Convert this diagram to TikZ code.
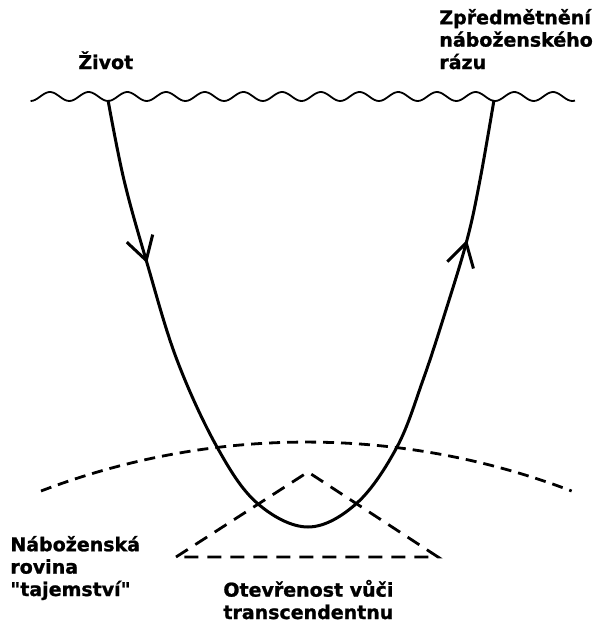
\documentclass[tikz,border=0pt]{standalone}
\usepackage{fontspec}
\setmainfont{DejaVu Sans}[Ligatures=TeXOff, BoldFeatures={FakeBold=1.2}]
\usepackage{tikz}
\usetikzlibrary{arrows.meta,decorations.markings}
\tikzset{
  tag/.style={inner sep=0pt, align=left, anchor=base west,
              font=\bfseries\fontsize{9.5}{11.2}\selectfont},
  wavyline/.style={line width=0.9pt, line join=round},
  pathline/.style={line width=1.5pt, line join=round,
                   postaction={decorate}},
  planearc/.style={line width=1.4pt, dash pattern=on 5.5pt off 3.5pt},
  conedash/.style={line width=1.4pt, dash pattern=on 7pt off 4.5pt},
  barb/.tip={Straight Barb[length=11.5pt, width=13.5pt]}
}

\begin{document}
\begin{tikzpicture}[x=0.5pt, y=-0.5pt]
  \useasboundingbox (0,0) rectangle (599,623);
  \draw[wavyline] plot[domain=30.6:575, samples=240]
    (\x, {96.5+4.5*cos(9.3023*(\x-108))});
  \coordinate (lifetop) at (108,100);
  \coordinate (objtop) at (494,100);
  \node[tag] (life) at (78,69) {Život};
  \node[tag] (obj) at (439,69) {Zpředmětnění\\náboženského\\rázu};
  \draw[pathline, decoration={markings,
      mark=at position 84pt with {\arrow{barb}},
      mark=at position -71.3pt with {\arrow{barb}}}]
    plot[smooth, tension=0.6] coordinates {(lifetop) (124,180) (147,263)
      (177,360) (217,447) (257,503) (308,527) (357,503) (397,447)
      (423,380) (445,313) (467,240) (480,180) (objtop)};
  \coordinate (planeL) at (41,491);
  \draw[planearc] (planeL) arc[start angle=-110.9, end angle=-69.1, radius=743.8];
  \coordinate (apex) at (308,472);
  \coordinate (baseL) at (176,557);
  \coordinate (baseR) at (438,557);
  \draw[conedash] (baseL) -- (apex) -- (baseR) -- cycle;
  \node[tag] (plane) at (10,596) {Náboženská\\rovina\\"tajemství"};
  \node[tag] (open) at (223,619) {Otevřenost vůči\\transcendentnu};
\end{tikzpicture}
\end{document}
